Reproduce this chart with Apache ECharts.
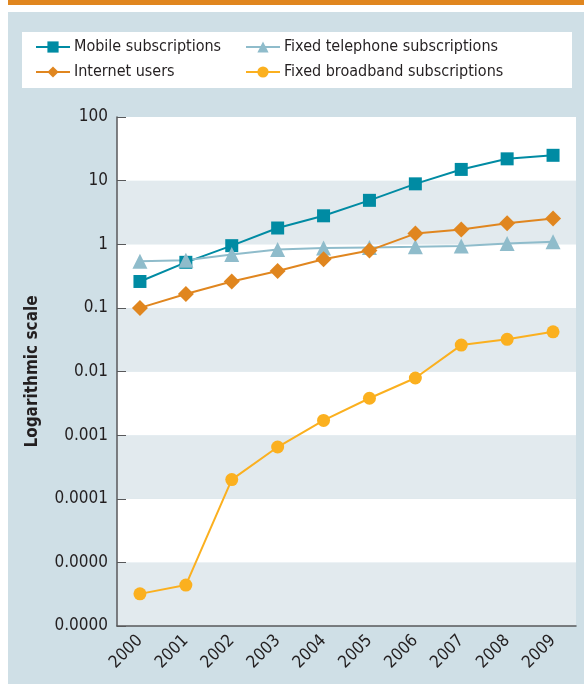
<!DOCTYPE html>
<html>
<head>
<meta charset="utf-8">
<script src="https://cdn.jsdelivr.net/npm/echarts@6/dist/echarts.min.js"></script>
<style>
  html, body { margin: 0; padding: 0; background: #fff; }
  #chart { width: 584px; height: 684px; }
</style>
</head>
<body>
<div id="chart"></div>
<script>
const years = ['2000', '2001', '2002', '2003', '2004', '2005', '2006', '2007', '2008', '2009']

// per 100 inhabitants
const mobile = [0.26, 0.52, 0.95, 1.8, 2.8, 4.9, 8.9, 15, 22, 25]
const fixedPhone = [0.54, 0.56, 0.69, 0.83, 0.87, 0.89, 0.91, 0.94, 1.03, 1.09]
const internet = [0.1, 0.165, 0.26, 0.38, 0.58, 0.8, 1.47, 1.71, 2.13, 2.55]
const broadband = [0.0000032, 0.0000044, 0.0002, 0.00065, 0.0017, 0.0038, 0.0079, 0.026, 0.032, 0.042]

const FONT = "'Liberation Sans Narrow', 'DejaVu Sans Condensed', sans-serif"
const TEXT = '#231f20'

const chart = echarts.init(document.getElementById('chart'))

function yLabel(v) {
  if (v >= 1) return String(Math.round(v))
  if (v < 0.0001 * 0.5) return v.toFixed(4)
  return String(parseFloat(v.toPrecision(1)))
}

function lineSeries(name, data, color, symbol, size) {
  return {
    name,
    type: 'line',
    data,
    symbol,
    symbolSize: size,
    lineStyle: { color, width: 2 },
    itemStyle: { color },
    emphasis: { disabled: true }
  }
}

const legendText = { fontFamily: FONT, fontSize: 16, color: TEXT, padding: [0, 0, 0, -1] }

const option = {
  animation: false,
  textStyle: { fontFamily: FONT },
  graphic: [
    { type: 'rect', shape: { x: 8, y: 0, width: 576, height: 5 }, style: { fill: '#e0861f' }, z: -10 },
    { type: 'rect', shape: { x: 8, y: 12, width: 576, height: 672 }, style: { fill: '#cfdfe6' }, z: -10 },
    { type: 'rect', shape: { x: 22, y: 32, width: 550, height: 56 }, style: { fill: '#ffffff' }, z: -9 }
  ],
  legend: [
    {
      orient: 'vertical',
      left: 30,
      top: 34,
      itemWidth: 34,
      itemHeight: 14,
      itemGap: 9,
      data: ['Mobile subscriptions', 'Internet users'],
      textStyle: legendText
    },
    {
      orient: 'vertical',
      left: 240,
      top: 34,
      itemWidth: 34,
      itemHeight: 14,
      itemGap: 9,
      data: ['Fixed telephone subscriptions', 'Fixed broadband subscriptions'],
      textStyle: legendText
    }
  ],
  grid: { left: 117, right: 8, top: 117, bottom: 58 },
  xAxis: {
    type: 'category',
    data: years,
    boundaryGap: true,
    axisLine: { lineStyle: { color: '#58595b', width: 1.5 } },
    axisTick: { inside: true, length: 8, interval: 0, lineStyle: { color: '#58595b' } },
    axisLabel: { rotate: 45, interval: 0, fontSize: 17, color: TEXT, fontFamily: FONT, margin: 12 }
  },
  yAxis: {
    type: 'log',
    logBase: 10,
    min: 0.000001,
    max: 100,
    interval: 1,
    name: 'Logarithmic scale',
    nameLocation: 'middle',
    nameGap: 76,
    nameRotate: 90,
    nameTextStyle: { fontFamily: FONT, fontSize: 17, fontWeight: 'bold', color: TEXT },
    axisLine: { show: true, lineStyle: { color: '#58595b', width: 1.5 } },
    axisTick: { show: true, inside: true, length: 9, lineStyle: { color: '#58595b' } },
    axisLabel: { fontSize: 17, color: TEXT, fontFamily: FONT, margin: 9, formatter: yLabel },
    splitLine: { show: false },
    splitArea: { show: true, areaStyle: { color: ['#e2eaee', '#ffffff'] } }
  },
  series: [
    lineSeries('Mobile subscriptions', mobile, '#008ba3', 'rect', 13),
    lineSeries('Fixed telephone subscriptions', fixedPhone, '#8fbccb', 'triangle', 15),
    lineSeries('Internet users', internet, '#e0861f', 'diamond', 16),
    lineSeries('Fixed broadband subscriptions', broadband, '#fbb01f', 'circle', 13)
  ]
}

chart.setOption(option)
</script>
</body>
</html>
